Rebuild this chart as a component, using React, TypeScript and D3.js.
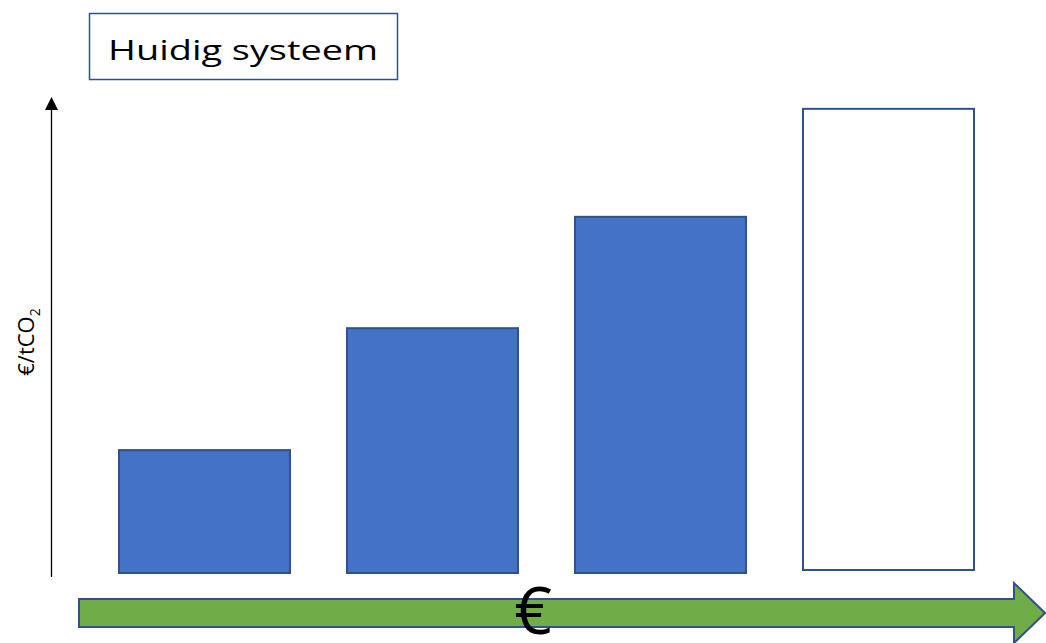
import React from "react";
import * as d3 from "d3";

// Cost-per-tonne steps of the current system (arbitrary €/tCO2 units)
const categories: string[] = ["Stap 1", "Stap 2", "Stap 3", "Stap 4"];
const values: number[] = [25.6, 51, 74.2, 96.7];
// The last step is only an outline (not yet filled)
const filled: boolean[] = [true, true, true, false];

const titleText = "Huidig systeem";
const yLabel = "€/tCO";
const yLabelSub = "2";
const xLabel = "€";

const W = 1046;
const H = 643;

export default function App() {
  const x = d3.scaleBand<string>().domain(categories).range([119, 974]).paddingInner(0.25).paddingOuter(0);
  const y = d3.scaleLinear().domain([0, 100]).range([573, 93]);

  // green cost arrow along the bottom
  const arrowPath = (() => {
    const p = d3.path();
    const x0 = 79, xb = 1014, xt = 1045;
    const yT = 599, yB = 627, hT = 583, hB = 643, yc = 613;
    p.moveTo(x0, yT);
    p.lineTo(xb, yT);
    p.lineTo(xb, hT);
    p.lineTo(xt, yc);
    p.lineTo(xb, hB);
    p.lineTo(xb, yB);
    p.lineTo(x0, yB);
    p.closePath();
    return p.toString();
  })();

  return (
    <svg
      width={W}
      height={H}
      viewBox={`0 0 ${W} ${H}`}
      style={{ position: "absolute", left: 0, top: 0, background: "#fff" }}
    >
      <rect x={0} y={0} width={W} height={H} fill="#fff" />

      {/* title box */}
      <rect x={89.5} y={13.5} width={308} height={66} fill="#fff" stroke="#2F528F" strokeWidth={1.5} />
      <text
        x={108}
        y={60}
        fontFamily="'Open Sans', Lato, sans-serif"
        fontSize={28}
        fill="#000"
        textLength={270}
        lengthAdjust="spacingAndGlyphs"
      >
        {titleText}
      </text>

      {/* vertical axis with arrowhead */}
      <line x1={51.5} x2={51.5} y1={577} y2={106} stroke="#000" strokeWidth={1.3} />
      <path d="M51.5,97 L45,110 L58,110 Z" fill="#000" />
      <text
        transform="translate(34,342) rotate(-90)"
        textAnchor="middle"
        fontFamily="'Open Sans', Lato, sans-serif"
        fontSize={22}
        fill="#000"
      >
        {yLabel}
        <tspan fontSize={14} dy={6}>{yLabelSub}</tspan>
      </text>

      {/* bars */}
      {categories.map((c, i) => {
        const bx = x(c)!;
        const top = y(values[i]);
        const bottom = filled[i] ? y(0) : y(0) - 3;
        return (
          <rect
            key={c}
            x={bx}
            y={top}
            width={x.bandwidth()}
            height={bottom - top}
            fill={filled[i] ? "#4472C4" : "#fff"}
            stroke="#2F528F"
            strokeWidth={2}
          />
        );
      })}

      {/* cost arrow */}
      <path d={arrowPath} fill="#70AD47" stroke="#2F528F" strokeWidth={2} strokeLinejoin="miter" />
      <text
        x={533}
        y={634}
        textAnchor="middle"
        fontFamily="'Open Sans', Lato, sans-serif"
        fontSize={66}
        fill="#000"
      >
        {xLabel}
      </text>
    </svg>
  );
}
